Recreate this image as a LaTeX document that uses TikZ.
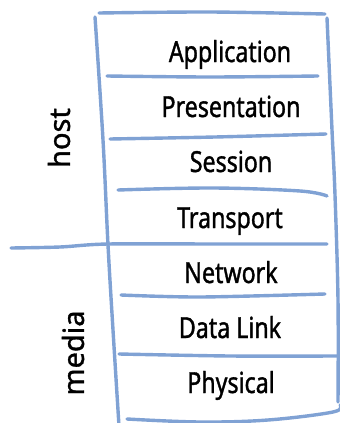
\documentclass[tikz,border=0pt]{standalone}
\usepackage{fontspec}
\newfontfamily\handfont[FakeStretch=0.8, FakeBold=1.2]{Noto Sans}
\newfontfamily\sidefont[FakeBold=1.2]{Noto Sans}
\definecolor{pen}{RGB}{128,162,212}
\begin{document}
\begin{tikzpicture}[x=1pt,y=-1pt,
  rule/.style={draw=pen, line width=3.4pt, line cap=round, line join=round},
  layer/.style={font=\handfont\fontsize{29}{30}\selectfont, anchor=base, inner sep=0pt},
  side/.style={font=\sidefont\fontsize{29}{30}\selectfont, rotate=90, inner sep=0pt}]
\useasboundingbox (0,0) rectangle (340,423);

% outer frame of the stack
\draw[rule] plot[smooth, tension=0.5] coordinates {(99,13) (210,12) (325,14)};
\draw[rule] plot[smooth, tension=0.6] coordinates {(95,17) (103,140) (108,245) (113,330) (119,426)};
\draw[rule] plot[smooth, tension=0.6] coordinates {(327,18) (332,130) (335,195) (338,300) (338,402)};
\draw[rule] plot[smooth, tension=0.6] coordinates {(127,419) (200,422) (268,420) (333,412) (340,405)};

% separators between the layers
\draw[rule] plot[smooth, tension=0.5] coordinates {(107,76) (210,77) (318,76)};
\draw[rule] plot[smooth, tension=0.5] coordinates {(110,139) (215,137) (326,134)};
\draw[rule] plot[smooth, tension=0.6] coordinates {(118,190) (213,188) (300,191) (327,196)};
\draw[rule] plot[smooth, tension=0.5] coordinates {(121,295) (200,297) (325,294)};
\draw[rule] plot[smooth, tension=0.5] coordinates {(119,354) (230,356) (338,356)};

% host / media split
\draw[rule] plot[smooth, tension=0.5] coordinates {(11,248) (60,247) (108,244) (220,244) (327,244)};

% layer names
\node[layer] (app)  at (230,62)  {Application};
\node[layer] (pres) at (231,117) {Presentation};
\node[layer] (sess) at (231,172) {Session};
\node[layer] (tran) at (230,228) {Transport};
\node[layer] (net)  at (231,283) {Network};
\node[layer] (dl)   at (230,338) {Data Link};
\node[layer] (phy)  at (231,393) {Physical};

% group labels
\node[side] (host)  at (59,138) {host};
\node[side] (media) at (73,353) {media};
\end{tikzpicture}
\end{document}
